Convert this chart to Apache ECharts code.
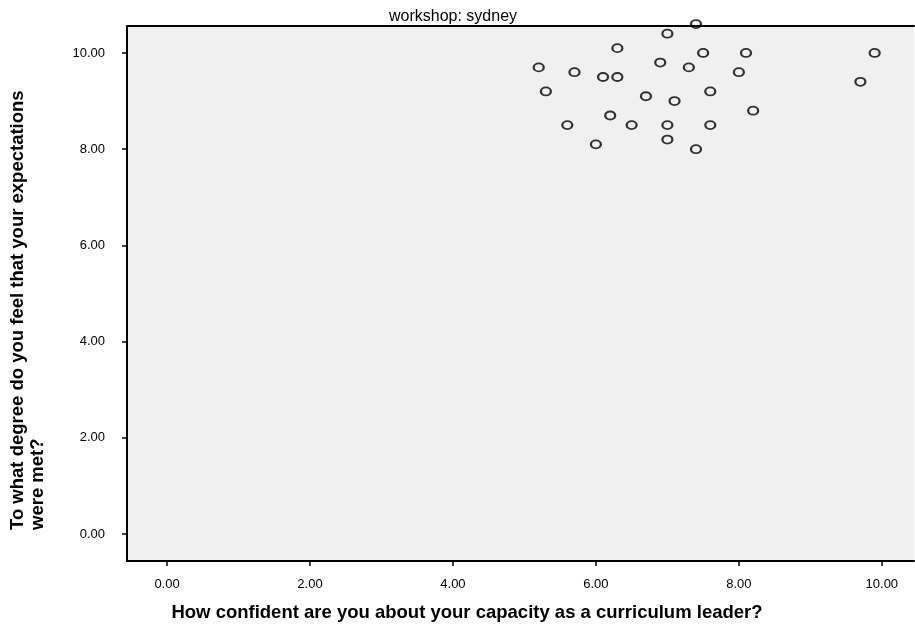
<!DOCTYPE html>
<html>
<head>
<meta charset="utf-8">
<script src="https://cdn.jsdelivr.net/npm/echarts@6/dist/echarts.min.js"></script>
<style>
html,body{margin:0;padding:0;background:#fff;}
#chart{width:915px;height:625px;}
</style>
</head>
<body>
<div id="chart"></div>
<script>
// data
var confidence = [7.4, 7.0, 6.3, 7.5, 8.1, 9.9, 5.2, 6.9, 7.3, 5.7, 6.1, 6.3, 8.0, 9.7,
                  5.3, 6.7, 7.1, 7.6, 8.2, 6.2, 5.6, 6.5, 7.0, 7.6, 6.0, 7.0, 7.4];
var expectations = [10.6, 10.4, 10.1, 10.0, 10.0, 10.0, 9.7, 9.8, 9.7, 9.6, 9.5, 9.5, 9.6, 9.4,
                    9.2, 9.1, 9.0, 9.2, 8.8, 8.7, 8.5, 8.5, 8.5, 8.5, 8.1, 8.2, 8.0];
var xTicks = [0, 2, 4, 6, 8, 10];
var yTicks = [0, 2, 4, 6, 8, 10];

var points = [];
for (var i = 0; i < confidence.length; i++) {
    points.push([confidence[i], expectations[i]]);
}

var myChart = echarts.init(document.getElementById('chart'));
var font = 'Liberation Sans, Arial, sans-serif';

var option = {
    animation: false,
    title: [
        {
            text: 'workshop: sydney',
            left: 448, top: 4, textAlign: 'center',
            textStyle: { fontFamily: font, fontSize: 16, fontWeight: 'normal', color: '#000' }
        },
        {
            text: 'How confident are you about your capacity as a curriculum leader?',
            left: 462, top: 598, textAlign: 'center',
            textStyle: { fontFamily: font, fontSize: 18.5, fontWeight: 'bold', color: '#000' }
        }
    ],
    graphic: [{
        type: 'text',
        x: 8, y: 530,
        rotation: Math.PI / 2,
        style: {
            text: 'To what degree do you feel that your expectations\nwere met?',
            font: 'bold 18.5px ' + font,
            fill: '#000',
            lineHeight: 20,
            align: 'left',
            verticalAlign: 'top'
        }
    }],
    grid: {
        left: 127, top: 26, right: 1, bottom: 64,
        show: true, backgroundColor: '#f0f0f0', borderWidth: 0
    },
    xAxis: [{
        type: 'value',
        min: -0.56, max: 10.45,
        splitLine: { show: false },
        axisLine: { show: true, onZero: false, lineStyle: { color: '#000', width: 2 } },
        axisTick: { show: true, length: 5, customValues: xTicks, lineStyle: { color: '#000', width: 1.5 } },
        axisLabel: {
            customValues: xTicks, margin: 17, color: '#000', fontFamily: font, fontSize: 13,
            formatter: function (v) { return v.toFixed(2); }
        }
    }, {
        type: 'value', position: 'top',
        min: -0.56, max: 10.45,
        splitLine: { show: false },
        axisLine: { show: true, onZero: false, lineStyle: { color: '#000', width: 2 } },
        axisTick: { show: false },
        axisLabel: { show: false }
    }],
    yAxis: {
        type: 'value',
        min: -0.56, max: 10.56,
        splitLine: { show: false },
        axisLine: { show: true, onZero: false, lineStyle: { color: '#000', width: 2 } },
        axisTick: { show: true, length: 5, customValues: yTicks, lineStyle: { color: '#000', width: 1.5 } },
        axisLabel: {
            customValues: yTicks, margin: 22, color: '#000', fontFamily: font, fontSize: 13,
            formatter: function (v) { return v.toFixed(2); }
        }
    },
    series: [{
        type: 'scatter',
        data: points,
        clip: false,
        z: 10,
        symbol: 'circle',
        symbolSize: [10, 8],
        itemStyle: { color: 'rgba(0,0,0,0)', borderColor: '#000', borderWidth: 2 }
    }]
};
myChart.setOption(option);
</script>
</body>
</html>
